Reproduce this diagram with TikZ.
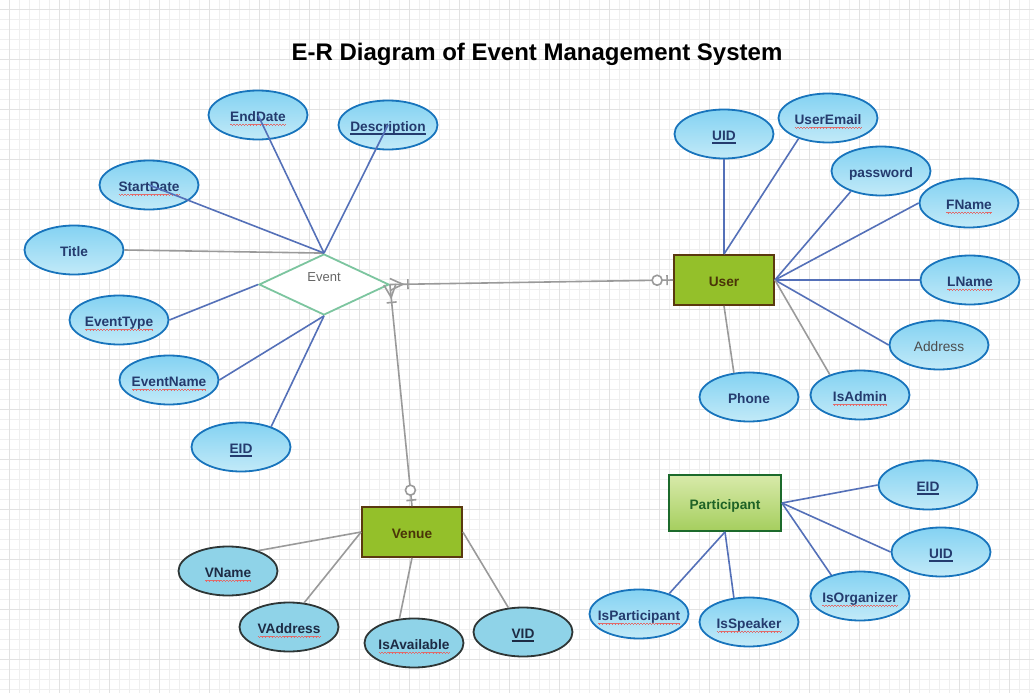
\documentclass[tikz,border=0pt]{standalone}
\usepackage{fontspec}
\setmainfont{Liberation Sans}
\usetikzlibrary{shapes.geometric,calc}
\definecolor{gridminor}{HTML}{EFEFEF}
\definecolor{gridmajor}{HTML}{E2E2E2}
\definecolor{attrline}{HTML}{1874BC}
\definecolor{attrtop}{HTML}{84D2F2}
\definecolor{attrbot}{HTML}{C2EAF8}
\definecolor{attrtext}{HTML}{243B6E}
\definecolor{vfill}{HTML}{8FD3E8}
\definecolor{vline}{HTML}{2E3636}
\definecolor{vtext}{HTML}{1D2B44}
\definecolor{entfill}{HTML}{94C02A}
\definecolor{entline}{HTML}{5A390F}
\definecolor{enttext}{HTML}{4A3408}
\definecolor{parttop}{HTML}{D8EAAA}
\definecolor{partbot}{HTML}{A5CE5E}
\definecolor{partline}{HTML}{1C6A2C}
\definecolor{parttext}{HTML}{1E6226}
\definecolor{relline}{HTML}{7CC59F}
\definecolor{linkblue}{HTML}{5470B8}
\definecolor{linkgray}{HTML}{9A9A9A}
\definecolor{spellred}{HTML}{E06A6A}
\newsavebox\txtbox
\newcommand\pk[1]{\sbox\txtbox{#1}\rlap{\usebox\txtbox}\rule[-3.3pt]{\wd\txtbox}{1.1pt}}
\newcommand\wavebit{\rule[-3.2pt]{.75pt}{.7pt}\rule[-3.7pt]{.75pt}{.7pt}\rule[-4.2pt]{.75pt}{.7pt}\rule[-3.7pt]{.75pt}{.7pt}}
\newcommand\wavy[1]{\sbox\txtbox{#1}\rlap{\usebox\txtbox}%
  \hbox to\wd\txtbox{\color{spellred}\xleaders\hbox{\wavebit}\hfill}}
\newcommand\crowbar[2]{%
  \draw[gray link] ($(#1)!6pt!90:(#2)$) -- ($(#1)!13pt!(#2)$) -- ($(#1)!6pt!-90:(#2)$);
  \draw[gray link] ($($(#1)!18pt!(#2)$)!5pt!90:(#2)$) -- ($($(#1)!18pt!(#2)$)!5pt!-90:(#2)$);}
\newcommand\zeroone[2]{%
  \draw[gray link] ($($(#1)!6pt!(#2)$)!5pt!90:(#2)$) -- ($($(#1)!6pt!(#2)$)!5pt!-90:(#2)$);
  \draw[gray link,fill=white] ($(#1)!16pt!(#2)$) circle[radius=5pt];}
\tikzset{
  minor grid/.style={draw=gridminor,line width=0.8pt},
  major grid/.style={draw=gridmajor,line width=0.8pt},
  heading/.style={font=\bfseries\fontsize{24}{28}\selectfont,text=black},
  shape base/.style={inner sep=0pt,text height=12.5pt,text depth=0pt,font=\bfseries\fontsize{13.7}{16}\selectfont},
  attr/.style={shape base,ellipse,inner xsep=-20pt,draw=attrline,line width=1.8pt,top color=attrtop,bottom color=attrbot,minimum width=99pt,minimum height=49pt,text=attrtext},
  vattr/.style={shape base,ellipse,inner xsep=-20pt,draw=vline,line width=1.8pt,fill=vfill,minimum width=99pt,minimum height=49pt,text=vtext},
  ent/.style={shape base,rectangle,draw=entline,line width=1.8pt,fill=entfill,minimum width=100pt,minimum height=50pt,text=enttext},
  weak ent/.style={shape base,rectangle,draw=partline,line width=1.8pt,top color=parttop,bottom color=partbot,minimum width=112pt,minimum height=56pt,text=parttext},
  rel/.style={diamond,draw=relline,line width=1.8pt,fill=white,minimum width=130pt,minimum height=61pt,inner sep=0pt},
  rel label/.style={font=\fontsize{13}{15}\selectfont,text=black!60},
  blue link/.style={draw=linkblue,line width=1.6pt},
  gray link/.style={draw=linkgray,line width=1.6pt}
}
\begin{document}
\begin{tikzpicture}[x=1pt,y=-1pt]
\useasboundingbox (0,0) rectangle (1034,693);
\fill[white] (0,0) rectangle (1034,693);
\foreach \g in {9.5,19.5,...,1029.5} \draw[minor grid] (\g,0) -- (\g,693);
\foreach \g in {9.5,19.5,...,689.5} \draw[minor grid] (0,\g) -- (1034,\g);
\foreach \g in {9.5,59.5,...,1009.5} \draw[major grid] (\g,0) -- (\g,693);
\foreach \g in {9.5,59.5,...,659.5} \draw[major grid] (0,\g) -- (1034,\g);

\node[heading,anchor=base] (head) at (537,61) {E-R Diagram of Event Management System};

\node[rel] (ev) at (324,284.5) {};
\node[rel label,anchor=base] (evl) at (324,281) {Event};
\node[attr] (ed) at (258,115) {\wavy{EndDate}};
\node[attr] (ds) at (388,125) {\pk{Description}};
\node[attr] (sd) at (149,185) {\wavy{StartDate}};
\node[attr] (tt) at (74,250) {Title};
\node[attr] (et) at (119,320) {\wavy{EventType}};
\node[attr] (en) at (169,380) {\wavy{EventName}};
\node[attr] (eid) at (241,447) {\pk{EID}};

\node[ent] (us) at (724,280) {User};
\node[attr] (uid) at (724,134) {\pk{UID}};
\node[attr] (ue) at (828,118) {\wavy{UserEmail}};
\node[attr] (pw) at (881,171) {password};
\node[attr] (fn) at (969,203) {\wavy{FName}};
\node[attr] (ln) at (970,280) {\wavy{LName}};
\node[attr,text=black!70,font=\fontsize{13.7}{16}\selectfont] (ad) at (939,345) {Address};
\node[attr] (ia) at (860,395) {\wavy{IsAdmin}};
\node[attr] (ph) at (749,397) {Phone};

\node[ent] (ve) at (412,532) {Venue};
\node[vattr] (vn) at (228,571) {\wavy{VName}};
\node[vattr] (va) at (289,627) {\wavy{VAddress}};
\node[vattr] (av) at (414,643) {\wavy{IsAvailable}};
\node[vattr] (vid) at (523,632) {\pk{VID}};

\node[weak ent] (pa) at (725,503) {Participant};
\node[attr] (pe) at (928,485) {\pk{EID}};
\node[attr] (pu) at (941,552) {\pk{UID}};
\node[attr] (po) at (860,596) {\wavy{IsOrganizer}};
\node[attr] (pp) at (639,614) {\wavy{IsParticipant}};
\node[attr] (ps) at (749,622) {\wavy{IsSpeaker}};

\draw[gray link] (tt.east) -- (ev.north);
\draw[blue link] (sd.center) -- (ev.north);
\draw[blue link] (ed.center) -- (ev.north);
\draw[blue link] (ds.center) -- (ev.north);
\draw[blue link] (et.east) -- (ev.west);
\draw[blue link] (en.east) -- (ev.south);
\draw[blue link] (eid.34) -- (ev.south);

\draw[blue link] (us.north) -- (uid.south);
\draw[blue link] (us.north) -- (ue.215);
\draw[blue link] (us.east) -- (pw.214);
\draw[blue link] (us.east) -- (fn.west);
\draw[blue link] (us.east) -- (ln.west);
\draw[blue link] (us.east) -- (ad.west);
\draw[gray link] (us.east) -- (ia.146);
\draw[gray link] (us.south) -- (ph.122);

\draw[gray link] (ve.west) -- (vn.34);
\draw[gray link] (ve.west) -- (va.58);
\draw[gray link] (ve.south) -- (av.121);
\draw[gray link] (ve.east) -- (vid.121);

\draw[blue link] (pa.east) -- (pe.west);
\draw[blue link] (pa.east) -- (pu.west);
\draw[blue link] (pa.east) -- (po.144);
\draw[blue link] (pa.south) -- (pp.34);
\draw[blue link] (pa.south) -- (ps.122);

\draw[gray link] (ev.east) -- (us.west);
\crowbar{ev.east}{us.west}
\zeroone{us.west}{ev.east}
\draw[gray link] (ev.east) -- (ve.north);
\crowbar{ev.east}{ve.north}
\zeroone{ve.north}{ev.east}
\end{tikzpicture}
\end{document}
